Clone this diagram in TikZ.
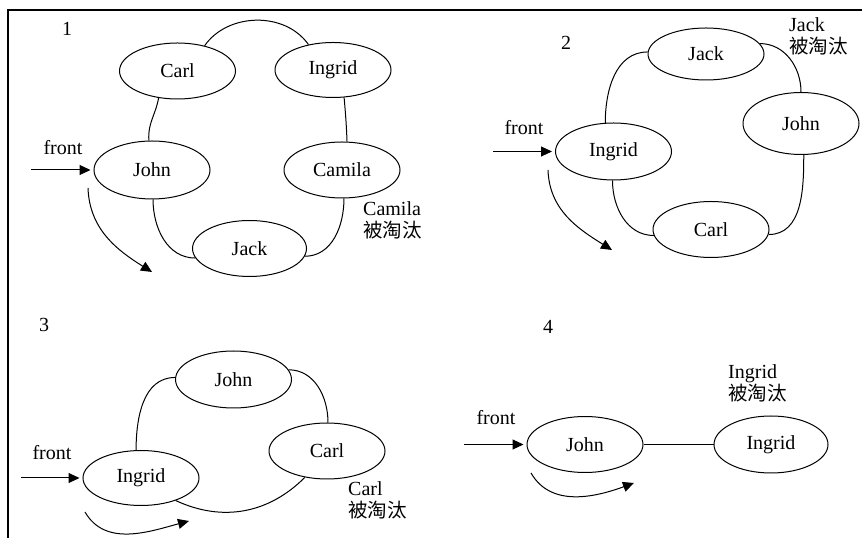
\documentclass[tikz,border=0pt]{standalone}
\usepackage{fontspec}
\setmainfont{Liberation Serif}
\newfontfamily\cjk{Noto Sans CJK SC}
\usetikzlibrary{shapes.geometric,arrows.meta}
\begin{document}
\begin{tikzpicture}[x=1pt,y=1pt,
  every node/.style={font=\fontsize{20}{22}\selectfont},
  ell/.style={draw, ellipse, minimum width=116pt, minimum height=56pt, inner sep=0pt, line width=1pt},
  link/.style={line width=1pt},
  arr/.style={line width=1pt, -{Triangle[length=11pt,width=10pt]}},
  lbl/.style={align=left, anchor=west, inner sep=0pt},
  num/.style={inner sep=0pt},
]
\newcommand{\elim}{{\cjk\fontsize{19.5}{22}\selectfont 被淘汰}}
\useasboundingbox (0,0) rectangle (862,538);
% frame
\draw[line width=1.8pt] (8,0) -- (8,528) -- (862,528);

% ---------- panel 1 ----------
\node[num] (n1) at (67,509) {1};
\node[ell] (c1) at (177.5,467) {Carl};
\node[ell, minimum height=55pt] (i1) at (333,468) {Ingrid};
\node[ell, minimum height=58pt] (j1) at (152,368) {John};
\node[ell] (m1) at (342,368) {Camila};
\node[ell, minimum width=114pt] (k1) at (249.5,289.5) {Jack};
\node[lbl] (l1) at (363,318) {Camila\\\elim};
\node[inner sep=0pt] (fr1) at (63,390) {front};
\coordinate (fa1) at (31,368);
\coordinate (s1) at (88,350);
\coordinate (e1) at (152,266);
\draw[arr, shorten >=3pt] (fa1) -- (j1.west);
\draw[arr] (s1) to[out=-88,in=148] (e1);
\draw[link] (c1.43) to[out=55,in=125] (i1.134);
\draw[link] (c1.-125) to[out=-100,in=95] (j1.96);
\draw[link] (i1.-68) to[out=-85,in=92] (m1.80);
\draw[link] (j1.-88) to[out=-90,in=180] (k1.190);
\draw[link] (k1.-8) to[out=0,in=-90] (m1.-86);

% ---------- panel 2 ----------
\node[num] (n2) at (566,495) {2};
\node[ell, minimum height=52pt] (k2) at (706,484) {Jack};
\node[ell, minimum height=62pt] (j2) at (801,414.5) {John};
\node[ell, minimum height=57pt] (i2) at (613.5,386.5) {Ingrid};
\node[ell] (c2) at (711,308.5) {Carl};
\node[lbl] (l2) at (789,501.5) {Jack\\\elim};
\node[inner sep=0pt] (fr2) at (524,410) {front};
\coordinate (fa2) at (493,386.5);
\coordinate (s2) at (548,368);
\coordinate (e2) at (612,288);
\draw[arr, shorten >=3pt] (fa2) -- (i2.west);
\draw[arr] (s2) to[out=-88,in=148] (e2);
\draw[link] (i2.106) to[out=90,in=180] (k2.178);
\draw[link] (k2.11) to[out=0,in=90] (j2.90);
\draw[link] (j2.-85) to[out=-90,in=0] (c2.-5);
\draw[link] (i2.-92) to[out=-90,in=180] (c2.186);

% ---------- panel 3 ----------
\node[num] (n3) at (44,213) {3};
\node[ell, minimum height=57pt] (j3) at (233.5,158.5) {John};
\node[ell, minimum height=55pt] (i3) at (141,60) {Ingrid};
\node[ell] (c3) at (327,87) {Carl};
\node[lbl] (l3) at (348,37.5) {Carl\\\elim};
\node[inner sep=0pt] (fr3) at (52,85) {front};
\coordinate (fa3) at (21,60);
\coordinate (s3) at (85,26);
\coordinate (e3) at (189,17);
\draw[arr, shorten >=3pt] (fa3) -- (i3.west);
\draw[arr] (s3) to[out=-60,in=195] (e3);
\draw[link] (i3.100) to[out=90,in=180] (j3.178);
\draw[link] (j3.10) to[out=0,in=90] (c3.88);
\draw[link] (i3.-33) to[out=-25,in=-135] (c3.-130);

% ---------- panel 4 ----------
\node[num] (n4) at (548,211) {4};
\node[ell] (j4) at (585,93.5) {John};
\node[ell, minimum width=114pt, minimum height=57pt] (i4) at (771,93.5) {Ingrid};
\node[lbl] (l4) at (728,154.5) {Ingrid\\\elim};
\node[inner sep=0pt] (fr4) at (496,120) {front};
\coordinate (fa4) at (464,93.5);
\coordinate (s4) at (531,65);
\coordinate (e4) at (634,55);
\draw[arr, shorten >=3pt] (fa4) -- (j4.west);
\draw[arr] (s4) to[out=-60,in=200] (e4);
\draw[link] (j4.east) -- (i4.west);
\end{tikzpicture}
\end{document}
